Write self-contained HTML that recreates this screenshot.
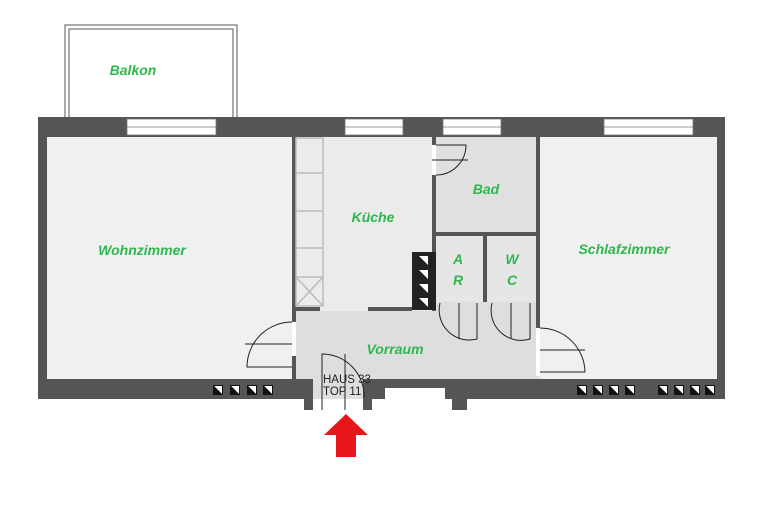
<!DOCTYPE html>
<html><head><style>body{margin:0;background:#fff}svg{display:block}</style></head><body>
<svg width="770" height="510" viewBox="0 0 770 510" xmlns="http://www.w3.org/2000/svg" font-family="Liberation Sans, sans-serif">
<defs>
<g id="v"><rect width="10" height="10" fill="#111"/><polygon points="1,1 9,1 9,9" fill="#fff" transform="rotate(0)"/><polygon points="1,1 1,9 9,9" fill="#111"/></g>
</defs>
<rect width="770" height="510" fill="#fff"/>
<g stroke="#555" fill="none" stroke-width="1">
<path d="M65 117 V25 H237 V117"/><path d="M69 117 V29 H233 V117"/>
</g>
<text x="133" y="75" font-size="14" font-style="italic" font-weight="bold" fill="#2db84d" text-anchor="middle">Balkon</text>
<rect x="38" y="117" width="687" height="282" fill="#555"/>
<rect x="304" y="399" width="9" height="11" fill="#555"/>
<rect x="363" y="399" width="9" height="11" fill="#555"/>
<rect x="452" y="399" width="15" height="11" fill="#555"/>
<rect x="47" y="137" width="245" height="242" fill="#f0f0f0"/>
<rect x="296" y="137" width="136" height="174" fill="#ebebeb"/>
<rect x="436" y="137" width="100" height="95" fill="#e0e0e0"/>
<rect x="436" y="236" width="47" height="66" fill="#e6e6e6"/>
<rect x="487" y="236" width="49" height="66" fill="#e6e6e6"/>
<rect x="296" y="311" width="244" height="68" fill="#dedede"/>
<rect x="436" y="302" width="104" height="10" fill="#dedede"/>
<rect x="540" y="137" width="177" height="242" fill="#f0f0f0"/>
<rect x="313" y="379" width="50" height="20" fill="#dedede"/>
<rect x="313" y="399" width="50" height="11" fill="#fff"/>
<rect x="385" y="388" width="60" height="11" fill="#fff"/>
<rect x="292" y="137" width="4" height="174" fill="#555"/>
<rect x="292" y="356" width="4" height="23" fill="#555"/>
<rect x="432" y="137" width="4" height="120" fill="#555"/>
<rect x="436" y="232" width="104" height="4" fill="#555"/>
<rect x="483" y="236" width="4" height="66" fill="#555"/>
<rect x="536" y="137" width="4" height="194" fill="#555"/>
<rect x="368" y="307" width="44" height="4" fill="#555"/>
<rect x="296" y="307" width="24" height="4" fill="#555"/>
<rect x="412" y="252" width="24" height="58" fill="#222"/>
<g fill="#fff"><polygon points="419,256 428,256 428,265"/><polygon points="419,270 428,270 428,279"/><polygon points="419,284 428,284 428,293"/><polygon points="419,298 428,298 428,307"/></g>
<rect x="432" y="145" width="4" height="30" fill="#fff"/>
<rect x="292" y="322" width="4" height="34" fill="#fff"/>
<rect x="536" y="328" width="4" height="48" fill="#fff"/>
<g stroke="#bbb" fill="none" stroke-width="1.5">
<rect x="296" y="138" width="27" height="168"/>
<line x1="296" y1="173" x2="323" y2="173"/><line x1="296" y1="211" x2="323" y2="211"/><line x1="296" y1="248" x2="323" y2="248"/><line x1="296" y1="277" x2="323" y2="277"/>
<line x1="296" y1="277" x2="323" y2="306"/><line x1="323" y1="277" x2="296" y2="306"/>
</g>
<g fill="#fff" stroke="#777" stroke-width="0.8">
<rect x="127" y="119" width="89" height="16"/><rect x="345" y="119" width="58" height="16"/><rect x="443" y="119" width="58" height="16"/><rect x="604" y="119" width="89" height="16"/>
</g>
<g stroke="#777" stroke-width="0.8"><line x1="127" y1="127" x2="216" y2="127"/><line x1="345" y1="127" x2="403" y2="127"/><line x1="443" y1="127" x2="501" y2="127"/><line x1="604" y1="127" x2="693" y2="127"/></g>
<g stroke="#222" fill="none" stroke-width="1">
<path d="M292 322 A45 45 0 0 0 247 367 H292"/><line x1="245" y1="344" x2="292" y2="344"/>
<path d="M436 175 A30 30 0 0 0 466 145 H436"/><line x1="432" y1="160" x2="468" y2="160"/>
<path d="M440 303 A30 30 0 0 0 477 339 V303"/><line x1="459" y1="303" x2="459" y2="339"/>
<path d="M492 303 A30 30 0 0 0 530 339 V303"/><line x1="511" y1="303" x2="511" y2="339"/>
<path d="M540 328 A45 45 0 0 1 585 372 H540"/><line x1="540" y1="350" x2="585" y2="350"/>
<path d="M322 410 V354 A42 42 0 0 1 364 398"/><line x1="345" y1="354" x2="345" y2="410"/>
</g>
<g>
<use href="#v" x="213" y="385"/><use href="#v" x="230" y="385"/><use href="#v" x="247" y="385"/><use href="#v" x="263" y="385"/>
<use href="#v" x="577" y="385"/><use href="#v" x="593" y="385"/><use href="#v" x="609" y="385"/><use href="#v" x="625" y="385"/>
<use href="#v" x="658" y="385"/><use href="#v" x="674" y="385"/><use href="#v" x="690" y="385"/><use href="#v" x="705" y="385"/>
</g>
<g font-size="14" font-style="italic" font-weight="bold" fill="#2db84d" text-anchor="middle">
<text x="142" y="255">Wohnzimmer</text>
<text x="373" y="222">Küche</text>
<text x="486" y="194">Bad</text>
<text x="458" y="264">A</text><text x="458" y="285">R</text>
<text x="512" y="264">W</text><text x="512" y="285">C</text>
<text x="624" y="254">Schlafzimmer</text>
<text x="395" y="354">Vorraum</text>
</g>
<text x="323" y="383" font-size="11.5" fill="#222">HAUS 33</text>
<text x="323" y="395" font-size="11.5" fill="#222">TOP 11</text>
<polygon points="346,414 368,435 356,435 356,457 336,457 336,435 324,435" fill="#e8161b"/>
</svg>
</body></html>
